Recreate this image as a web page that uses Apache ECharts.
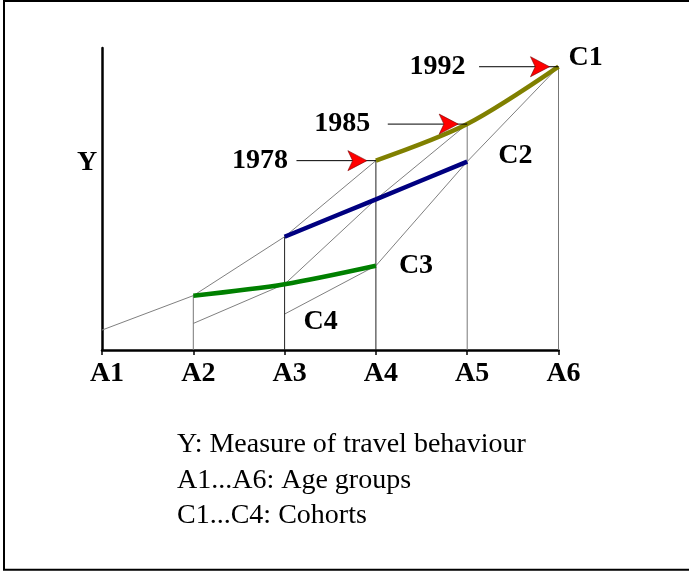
<!DOCTYPE html>
<html>
<head>
<meta charset="utf-8">
<script src="https://cdn.jsdelivr.net/npm/echarts@6/dist/echarts.min.js"></script>
<style>
html,body{margin:0;padding:0;background:#fff;}
#chart{width:689px;height:571px;}
</style>
</head>
<body>
<div id="chart"></div>
<script>
// ---- data ----
const ageLabels = ['A1', 'A2', 'A3', 'A4', 'A5', 'A6'];
const cohortNames = ['C1', 'C2', 'C3', 'C4'];
const periodYears = ['1978', '1985', '1992'];
// measure of travel behaviour per cohort by age group (null = not observed)
const c1 = [null, null, null, 62.7, 74.8, 93.8];
const c2 = [null, null, 37.5, 49.9, 62.4, null];
const c3 = [null, 18.0, 21.8, 27.9, null, null];
const c4 = [6.6, 8.8, 11.9, null, null, null];
const notes = ['Y: Measure of travel behaviour', 'A1...A6: Age groups', 'C1...C4: Cohorts'];

// ---- build ----
const cohorts = [c1, c2, c3, c4];
const SERIF = '"Liberation Serif", "Times New Roman", serif';
const toPairs = arr => arr.map((v, i) => v == null ? null : [i, v]).filter(Boolean);

// period (cross-section) lines: cohort c observed at age index 3 - c + p in period p
const periodLines = periodYears.map((y, p) => {
  const pts = [];
  for (let c = cohorts.length - 1; c >= 0; c--) {
    const age = 3 - c + p;
    pts.push([age, cohorts[c][age]]);
  }
  return pts;
});
const periodEnds = periodLines.map(pts => pts[pts.length - 1]);

const cohortColors = ['#808000', '#000080', '#008000'];
const series = [];

// thin period lines
periodLines.forEach((pts, p) => {
  series.push({
    type: 'line', data: pts, symbol: 'none', silent: true,
    lineStyle: { color: '#808080', width: 1 }, z: 2
  });
});

// vertical drop lines at each age group (except A1)
const dropColors = ['#777', '#777', '#222', '#222', '#777', '#777'];
ageLabels.forEach((a, i) => {
  if (i === 0) return;
  let top = -Infinity;
  cohorts.forEach(arr => { if (arr[i] != null) top = Math.max(top, arr[i]); });
  series.push({
    type: 'line', data: [[i, 0], [i, top]], symbol: 'none', silent: true,
    lineStyle: { color: dropColors[i], width: 1 }, z: 2
  });
});

// thick cohort lines C1..C3
[c1, c2, c3].forEach((arr, k) => {
  series.push({
    type: 'line', name: cohortNames[k], data: toPairs(arr), symbol: 'none',
    smooth: 0.3, silent: true,
    lineStyle: { color: cohortColors[k], width: 4.5 }, z: 4
  });
});

// arrow shafts
const shaftLen = 0.87;
periodEnds.forEach(pt => {
  series.push({
    type: 'line', data: [[pt[0] - shaftLen, pt[1]], [pt[0], pt[1]]], symbol: 'none',
    silent: true, lineStyle: { color: '#000', width: 1 }, z: 5
  });
});

// arrow heads
series.push({
  type: 'scatter', data: periodEnds, symbol: 'arrow', symbolSize: [15, 19],
  symbolRotate: -90, symbolOffset: [-9, 0], silent: true,
  itemStyle: { color: '#ff0000', borderColor: '#700', borderWidth: 0.6, opacity: 1 }, z: 6
});

const boldLabel = {
  fontFamily: SERIF, fontWeight: 'bold', fontSize: 28, color: '#000',
  opacity: 1, textBorderWidth: 0
};

// year labels
const yearDist = [88, 97, 93];
series.push({
  type: 'scatter', symbolSize: 0, silent: true, z: 7,
  itemStyle: { opacity: 1 },
  data: periodEnds.map((pt, p) => ({
    value: pt,
    label: Object.assign({
      show: true, position: 'left', distance: yearDist[p], formatter: periodYears[p]
    }, boldLabel)
  }))
});

// cohort labels at the 1992 points
const cLabelOffset = [[10, -9], [31, -6], [23, 0], [19, 8]];
series.push({
  type: 'scatter', symbolSize: 0, silent: true, z: 7,
  itemStyle: { opacity: 1 },
  data: periodLines[2].slice().reverse().map((pt, c) => ({
    value: pt,
    label: Object.assign({
      show: true, position: 'right', distance: 0, offset: cLabelOffset[c],
      formatter: cohortNames[c]
    }, boldLabel)
  }))
});

const chart = echarts.init(document.getElementById('chart'), null, { renderer: 'canvas' });
chart.setOption({
  animation: false,
  backgroundColor: '#fff',
  grid: { left: 102, right: 130.5, top: 48, bottom: 221, containLabel: false },
  xAxis: {
    type: 'value', min: 0, max: ageLabels.length - 1, interval: 1,
    axisLine: { show: true, lineStyle: { color: '#000', width: 2.5 } },
    axisTick: { show: true, length: 5, lineStyle: { color: '#000', width: 1.5 } },
    splitLine: { show: false },
    axisLabel: {
      margin: 10, padding: [0, 0, 0, 10],
      formatter: v => ageLabels[v] || '',
      fontFamily: SERIF, fontWeight: 'bold', fontSize: 28, color: '#000'
    }
  },
  yAxis: {
    type: 'value', min: 0, max: 100,
    axisLine: { show: true, lineStyle: { color: '#000', width: 2.5 } },
    axisTick: { show: false }, axisLabel: { show: false }, splitLine: { show: false }
  },
  graphic: [
    { type: 'rect', shape: { x: 4, y: 1, width: 720, height: 568.7 },
      style: { fill: null, stroke: '#000', lineWidth: 2 }, silent: true },
    { type: 'text', x: 87, y: 163, silent: true,
      style: { text: 'Y', align: 'center', verticalAlign: 'middle',
        font: 'bold 28px ' + SERIF, fill: '#000' } },
    ...notes.map((t, i) => ({
      type: 'text', x: 177, y: 445 + i * 35.5, silent: true,
      style: { text: t, align: 'left', verticalAlign: 'middle',
        font: '28px ' + SERIF, fill: '#000' }
    }))
  ],
  series: series
});
</script>
</body>
</html>
